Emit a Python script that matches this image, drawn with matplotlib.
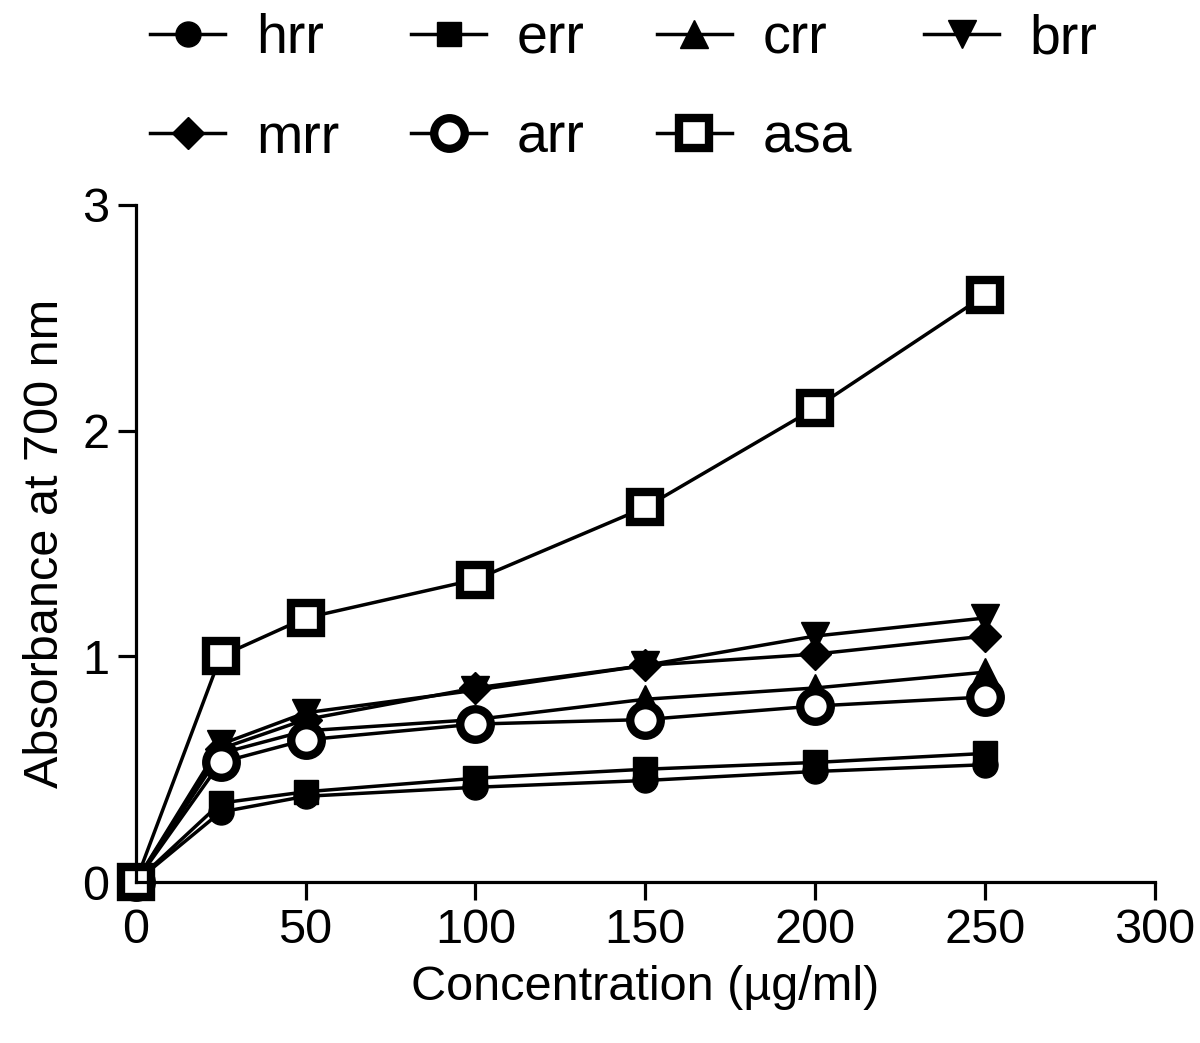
import numpy as np
import matplotlib
matplotlib.use('Agg')
import matplotlib.pyplot as plt

plt.rcParams['font.family'] = ['Liberation Sans', 'DejaVu Sans']

conc = [0, 25, 50, 100, 150, 200, 250]

hrr = [0, 0.31, 0.38, 0.42, 0.45, 0.49, 0.52]
err = [0, 0.35, 0.40, 0.46, 0.50, 0.53, 0.57]
crr = [0, 0.57, 0.67, 0.72, 0.81, 0.86, 0.93]
brr = [0, 0.61, 0.75, 0.85, 0.96, 1.09, 1.17]
mrr = [0, 0.59, 0.72, 0.86, 0.96, 1.01, 1.09]
arr = [0, 0.53, 0.63, 0.70, 0.72, 0.78, 0.82]
asa = [0, 1.00, 1.17, 1.34, 1.66, 2.10, 2.60]

series = [
    ('hrr', hrr, dict(marker='o', ms=18, mfc='black')),
    ('err', err, dict(marker='s', ms=17, mfc='black')),
    ('crr', crr, dict(marker='^', ms=20, mfc='black')),
    ('brr', brr, dict(marker='v', ms=20, mfc='black')),
    ('mrr', mrr, dict(marker='D', ms=16, mfc='black')),
    ('arr', arr, dict(marker='o', ms=22, mfc='white', mew=6)),
    ('asa', asa, dict(marker='s', ms=22, mfc='white', mew=6)),
]

fig = plt.figure(figsize=(12, 10.43), dpi=100)
ax = fig.add_axes([0.113, 0.1543, 0.8495, 0.6492])

handles = {}
for name, vals, style in series:
    h, = ax.plot(conc, vals, color='black', lw=2.5, mec='black',
                 clip_on=False, label=name, **style)
    handles[name] = h

ax.set_xlim(0, 300)
ax.set_ylim(0, 3)
ax.set_xticks([0, 50, 100, 150, 200, 250, 300])
ax.set_yticks([0, 1, 2, 3])
for s in ['top', 'right']:
    ax.spines[s].set_visible(False)
for s in ['left', 'bottom']:
    ax.spines[s].set_linewidth(2.3)
ax.tick_params(width=2.3, length=13, labelsize=35, pad=6)
ax.set_xlabel('Concentration (µg/ml)', fontsize=35, labelpad=8)
ax.set_ylabel('Absorbance at 700 nm', fontsize=35, labelpad=10)

order = ['hrr', 'mrr', 'err', 'arr', 'crr', 'asa', 'brr']
fig.legend([handles[n] for n in order], order, ncol=4, loc='upper center',
           bbox_to_anchor=(0.52, 1.035), frameon=False, fontsize=40,
           handlelength=1.35, columnspacing=1.3, handletextpad=0.55,
           labelspacing=0.85)

fig.savefig('out.png', dpi=100)
